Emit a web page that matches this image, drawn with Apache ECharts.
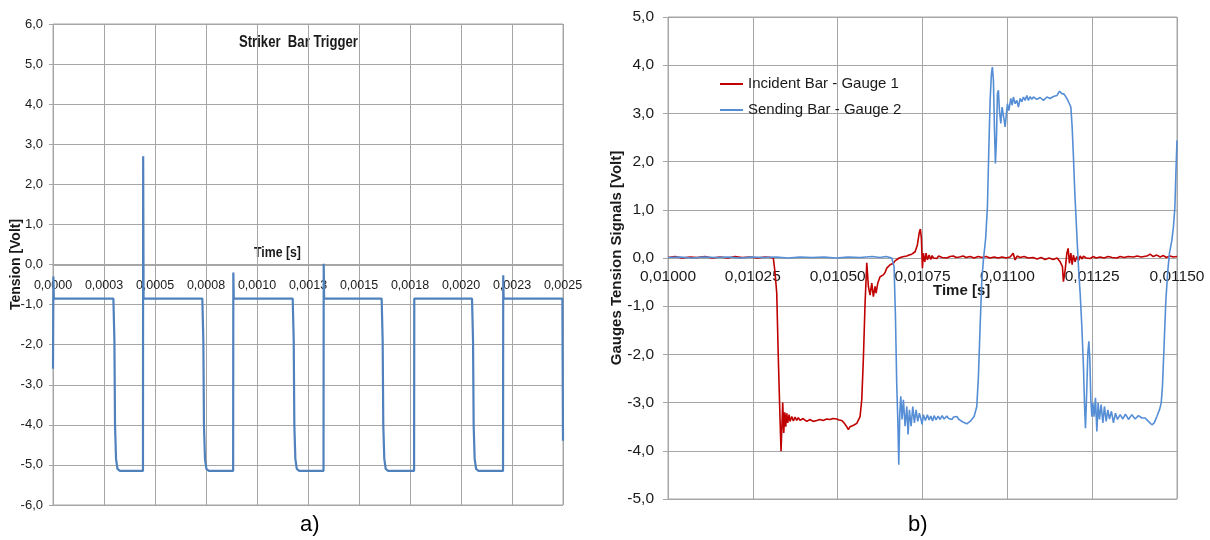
<!DOCTYPE html>
<html>
<head>
<meta charset="utf-8">
<script src="https://cdn.jsdelivr.net/npm/echarts@6.0.0/dist/echarts.min.js"></script>
<style>
html,body{margin:0;padding:0;background:#fff;}
#chart{width:1210px;height:540px;}
</style>
</head>
<body>
<div id="chart"></div>
<script>
// ---- Data (a): striker bar trigger [time s, tension V]
const strikerTrigger = [
  [0,-2.6],[0.000002,-0.3],[0.000004,-0.85],
  [0.000296,-0.85],[0.000301,-1.9],[0.000304,-4.0],[0.000309,-4.85],[0.000316,-5.1],[0.000328,-5.15],
  [0.000441,-5.15],[0.000442,2.7],[0.000444,-0.85],
  [0.000732,-0.85],[0.000737,-1.9],[0.00074,-4.0],[0.000745,-4.85],[0.000752,-5.1],[0.000764,-5.15],
  [0.000883,-5.15],[0.000884,-0.2],[0.000886,-0.85],
  [0.001175,-0.85],[0.00118,-1.9],[0.001183,-4.0],[0.001188,-4.85],[0.001195,-5.1],[0.001207,-5.15],
  [0.001326,-5.15],[0.001327,0.02],[0.001329,-0.85],
  [0.001611,-0.85],[0.001616,-1.9],[0.001619,-4.0],[0.001624,-4.85],[0.001631,-5.1],[0.001643,-5.15],
  [0.00177,-5.15],[0.001771,-0.85],
  [0.002054,-0.85],[0.002059,-1.9],[0.002062,-4.0],[0.002067,-4.85],[0.002074,-5.1],[0.002086,-5.15],
  [0.002206,-5.15],[0.002207,-0.27],[0.002209,-0.85],
  [0.002497,-0.85],[0.0025,-4.4]
];

// ---- Data (b): Incident Bar - Gauge 1 [time s, V]
const incidentBar = [
  [0.0100000,0.01],[0.0100206,0.03],[0.0100413,0.00],[0.0100649,0.02],[0.0100855,0.01],[0.0101091,0.03],
  [0.0101297,0.00],[0.0101533,0.02],[0.0101769,0.00],[0.0101975,0.03],[0.0102182,0.01],[0.0102417,0.02],
  [0.0102624,0.00],[0.0102860,0.02],[0.0103036,0.01],[0.0103104,0.00],[0.0103154,-0.30],[0.0103204,-0.72],
  [0.0103252,-2.10],[0.0103302,-3.35],[0.0103331,-4.01],[0.0103381,-3.00],[0.0103411,-3.63],[0.0103440,-3.20],
  [0.0103470,-3.50],[0.0103499,-3.22],[0.0103529,-3.42],[0.0103567,-3.25],[0.0103597,-3.39],[0.0103647,-3.29],
  [0.0103694,-3.38],[0.0103744,-3.30],[0.0103794,-3.37],[0.0103841,-3.31],[0.0103891,-3.37],[0.0103980,-3.33],
  [0.0104089,-3.39],[0.0104186,-3.35],[0.0104275,-3.39],[0.0104384,-3.37],[0.0104481,-3.35],[0.0104569,-3.37],
  [0.0104678,-3.34],[0.0104776,-3.35],[0.0104864,-3.33],[0.0104973,-3.34],[0.0105041,-3.36],[0.0105121,-3.37],
  [0.0105188,-3.42],[0.0105268,-3.50],[0.0105315,-3.56],[0.0105365,-3.50],[0.0105415,-3.53],[0.0105469,-3.47],
  [0.0105513,-3.49],[0.0105563,-3.43],[0.0105616,-3.40],[0.0105660,-3.29],[0.0105710,-2.94],[0.0105757,-2.10],
  [0.0105808,-0.93],[0.0105837,-0.45],[0.0105858,-0.10],[0.0105905,-0.59],[0.0105955,-0.77],[0.0106005,-0.52],
  [0.0106052,-0.80],[0.0106102,-0.59],[0.0106132,-0.73],[0.0106182,-0.52],[0.0106220,-0.48],[0.0106250,-0.39],
  [0.0106294,-0.42],[0.0106347,-0.35],[0.0106397,-0.30],[0.0106447,-0.21],[0.0106500,-0.20],[0.0106545,-0.14],
  [0.0106595,-0.12],[0.0106642,-0.11],[0.0106692,-0.06],[0.0106742,-0.03],[0.0106810,0.00],[0.0106889,0.02],
  [0.0106957,0.03],[0.0107037,0.04],[0.0107105,0.06],[0.0107184,0.08],[0.0107237,0.10],[0.0107282,0.13],
  [0.0107349,0.27],[0.0107408,0.54],[0.0107438,0.60],[0.0107467,0.41],[0.0107497,-0.21],[0.0107526,0.10],
  [0.0107568,-0.08],[0.0107606,0.10],[0.0107644,-0.04],[0.0107694,0.06],[0.0107744,-0.03],[0.0107783,0.05],
  [0.0107821,0.00],[0.0107871,0.04],[0.0107921,-0.01],[0.0107974,0.04],[0.0108019,0.03],[0.0108078,0.01],
  [0.0108136,0.04],[0.0108216,0.00],[0.0108313,0.03],[0.0108411,0.04],[0.0108490,0.01],[0.0108588,0.02],
  [0.0108697,0.04],[0.0108785,0.01],[0.0108903,0.03],[0.0109021,0.00],[0.0109139,0.03],[0.0109257,0.01],
  [0.0109375,0.03],[0.0109493,0.00],[0.0109610,0.02],[0.0109728,0.00],[0.0109846,0.02],[0.0109964,0.00],
  [0.0110082,0.02],[0.0110171,0.10],[0.0110230,-0.04],[0.0110289,0.04],[0.0110377,0.01],[0.0110495,0.03],
  [0.0110613,0.00],[0.0110760,0.01],[0.0110878,-0.02],[0.0110996,0.01],[0.0111114,-0.03],[0.0111232,0.00],
  [0.0111350,-0.03],[0.0111468,0.00],[0.0111556,-0.08],[0.0111624,-0.18],[0.0111653,-0.49],[0.0111704,-0.25],
  [0.0111754,0.10],[0.0111792,0.20],[0.0111830,-0.11],[0.0111872,0.10],[0.0111910,-0.14],[0.0111948,0.06],
  [0.0111998,-0.08],[0.0112048,0.03],[0.0112102,-0.05],[0.0112146,0.04],[0.0112205,-0.02],[0.0112243,0.04],
  [0.0112323,0.00],[0.0112441,-0.01],[0.0112529,0.03],[0.0112617,0.00],[0.0112735,0.02],[0.0112853,0.00],
  [0.0112971,0.03],[0.0113089,0.01],[0.0113228,0.00],[0.0113325,0.03],[0.0113443,0.01],[0.0113561,0.03],
  [0.0113717,0.02],[0.0113826,0.04],[0.0113944,0.02],[0.0114112,0.04],[0.0114209,0.08],[0.0114298,0.03],
  [0.0114407,0.06],[0.0114504,0.02],[0.0114601,0.05],[0.0114681,0.01],[0.0114799,0.04],[0.0114887,0.02],
  [0.0115000,0.03]
];

// ---- Data (b): Sending Bar - Gauge 2 [time s, V]
const sendingBar = [
  [0.0100000,0.01],[0.0100354,0.02],[0.0100708,0.00],[0.0101061,0.02],[0.0101415,0.01],[0.0101769,0.02],
  [0.0102123,0.00],[0.0102476,0.02],[0.0102830,0.01],[0.0103184,0.02],[0.0103538,0.00],[0.0103891,0.02],
  [0.0104245,0.01],[0.0104599,0.02],[0.0104953,0.00],[0.0105306,0.02],[0.0105660,0.01],[0.0106014,0.03],
  [0.0106250,0.01],[0.0106427,0.03],[0.0106595,0.00],[0.0106662,-0.18],[0.0106701,-1.15],[0.0106742,-2.66],
  [0.0106772,-3.35],[0.0106801,-4.29],[0.0106831,-3.22],[0.0106860,-2.87],[0.0106898,-3.35],[0.0106937,-2.94],
  [0.0106987,-3.49],[0.0107037,-3.08],[0.0107075,-3.66],[0.0107114,-3.15],[0.0107164,-3.49],[0.0107214,-3.08],
  [0.0107261,-3.42],[0.0107311,-3.15],[0.0107361,-3.39],[0.0107408,-3.22],[0.0107458,-3.35],[0.0107488,-3.45],
  [0.0107526,-3.25],[0.0107585,-3.37],[0.0107644,-3.25],[0.0107694,-3.36],[0.0107744,-3.28],[0.0107797,-3.38],
  [0.0107842,-3.27],[0.0107901,-3.36],[0.0107960,-3.28],[0.0108019,-3.35],[0.0108078,-3.27],[0.0108136,-3.34],
  [0.0108216,-3.28],[0.0108269,-3.33],[0.0108313,-3.29],[0.0108372,-3.35],[0.0108411,-3.30],[0.0108461,-3.33],
  [0.0108520,-3.29],[0.0108558,-3.34],[0.0108608,-3.32],[0.0108705,-3.41],[0.0108806,-3.44],[0.0108903,-3.39],
  [0.0109021,-3.29],[0.0109100,-3.08],[0.0109148,-2.46],[0.0109198,-1.42],[0.0109248,-0.46],[0.0109295,-0.04],
  [0.0109360,0.40],[0.0109413,1.06],[0.0109454,2.24],[0.0109493,3.27],[0.0109531,3.82],[0.0109560,3.96],
  [0.0109590,3.69],[0.0109619,2.72],[0.0109649,1.96],[0.0109678,2.44],[0.0109708,3.41],[0.0109737,3.48],
  [0.0109767,3.06],[0.0109808,2.79],[0.0109846,3.13],[0.0109885,2.96],[0.0109935,2.72],[0.0109964,2.93],
  [0.0110003,3.20],[0.0110044,3.06],[0.0110103,3.31],[0.0110141,3.17],[0.0110179,3.34],[0.0110230,3.20],
  [0.0110280,3.27],[0.0110327,3.13],[0.0110377,3.31],[0.0110427,3.24],[0.0110474,3.34],[0.0110524,3.27],
  [0.0110574,3.37],[0.0110622,3.27],[0.0110672,3.35],[0.0110722,3.29],[0.0110769,3.34],[0.0110869,3.29],
  [0.0110967,3.33],[0.0111064,3.27],[0.0111164,3.34],[0.0111261,3.31],[0.0111359,3.35],[0.0111459,3.37],
  [0.0111536,3.46],[0.0111606,3.41],[0.0111674,3.40],[0.0111754,3.31],[0.0111830,3.20],[0.0111872,3.13],
  [0.0111910,2.72],[0.0111948,2.10],[0.0111989,1.34],[0.0112028,0.79],[0.0112066,0.23],[0.0112107,-0.32],
  [0.0112146,-0.73],[0.0112196,-1.42],[0.0112243,-2.25],[0.0112273,-3.01],[0.0112302,-3.53],[0.0112332,-2.94],
  [0.0112373,-1.97],[0.0112402,-1.73],[0.0112432,-2.11],[0.0112461,-2.94],[0.0112491,-3.29],[0.0112520,-3.01],
  [0.0112558,-3.29],[0.0112597,-2.90],[0.0112638,-3.60],[0.0112676,-3.01],[0.0112715,-3.35],[0.0112765,-3.04],
  [0.0112815,-3.42],[0.0112862,-3.08],[0.0112912,-3.39],[0.0112962,-3.15],[0.0113009,-3.34],[0.0113068,-3.18],
  [0.0113127,-3.42],[0.0113186,-3.22],[0.0113245,-3.35],[0.0113325,-3.25],[0.0113405,-3.34],[0.0113481,-3.24],
  [0.0113570,-3.35],[0.0113670,-3.25],[0.0113767,-3.34],[0.0113864,-3.27],[0.0113965,-3.32],[0.0114062,-3.32],
  [0.0114159,-3.39],[0.0114260,-3.46],[0.0114327,-3.42],[0.0114407,-3.29],[0.0114484,-3.15],[0.0114534,-3.01],
  [0.0114572,-2.66],[0.0114622,-1.77],[0.0114672,-0.87],[0.0114731,-0.25],[0.0114778,0.10],[0.0114849,0.37],
  [0.0114896,0.65],[0.0114938,1.06],[0.0114967,1.75],[0.0115000,2.44]
];

const seriesNames = ['Incident Bar - Gauge 1', 'Sending Bar - Gauge 2'];
const leftXRange = [0, 0.0025];
const rightXRange = [0.01, 0.0115];
const xStep = 0.00025;

const GRID = '#a6a6a6';
const ARIAL = "'Liberation Sans',Arial,sans-serif";
const TXT = '#1a1a1a';

function fmtX(dec) {
  return function (v) {
    const m = Math.pow(10, dec);
    const n = Math.floor(v * m + 0.5 + 1e-7);
    return (n / m).toFixed(dec).replace('.', ',');
  };
}
function fmtY(v) { return v.toFixed(1).replace('.', ','); }

const chart = echarts.init(document.getElementById('chart'), null, { renderer: 'canvas' });
chart.setOption({
  animation: false,
  backgroundColor: '#ffffff',
  grid: [
    { left: 53, top: 24, width: 510, height: 481, show: true, borderColor: GRID, borderWidth: 1, backgroundColor: 'transparent' },
    { left: 668, top: 17, width: 509, height: 482, show: true, borderColor: GRID, borderWidth: 1, backgroundColor: 'transparent' }
  ],
  xAxis: [
    {
      gridIndex: 0, type: 'value', min: leftXRange[0], max: leftXRange[1], interval: xStep,
      position: 'bottom', offset: -240,
      axisLine: { show: true, onZero: false, lineStyle: { color: GRID, width: 1 } },
      axisTick: { show: false },
      axisLabel: { margin: 14, fontFamily: ARIAL, fontSize: 12.5, color: TXT, formatter: fmtX(4) },
      splitLine: { show: true, lineStyle: { color: GRID, width: 1 } }
    },
    {
      gridIndex: 1, type: 'value', min: rightXRange[0], max: rightXRange[1], interval: xStep,
      position: 'bottom', offset: -241,
      axisLine: { show: true, onZero: false, lineStyle: { color: GRID, width: 1 } },
      axisTick: { show: false },
      axisLabel: { margin: 11, fontFamily: ARIAL, fontSize: 15.5, color: TXT, formatter: fmtX(5) },
      splitLine: { show: true, lineStyle: { color: GRID, width: 1 } }
    }
  ],
  yAxis: [
    {
      gridIndex: 0, type: 'value', min: -6, max: 6, interval: 1,
      name: 'Tension [Volt]', nameLocation: 'middle', nameGap: 30, nameMoveOverlap: false,
      nameTextStyle: { fontFamily: ARIAL, fontWeight: 'bold', fontSize: 14, color: TXT },
      axisLine: { show: false, onZero: false },
      axisTick: { show: true, length: 4, lineStyle: { color: GRID } },
      axisLabel: { margin: 10, fontFamily: ARIAL, fontSize: 13, color: TXT, formatter: fmtY },
      splitLine: { show: true, lineStyle: { color: GRID, width: 1 } }
    },
    {
      gridIndex: 1, type: 'value', min: -5, max: 5, interval: 1,
      name: 'Gauges Tension Signals [Volt]', nameLocation: 'middle', nameGap: 44, nameMoveOverlap: false,
      nameTextStyle: { fontFamily: ARIAL, fontWeight: 'bold', fontSize: 15, color: TXT },
      axisLine: { show: false, onZero: false },
      axisTick: { show: true, length: 5, lineStyle: { color: GRID } },
      axisLabel: { margin: 14, fontFamily: ARIAL, fontSize: 15.5, color: TXT, formatter: fmtY },
      splitLine: { show: true, lineStyle: { color: GRID, width: 1 } }
    }
  ],
  legend: {
    data: seriesNames,
    orient: 'vertical',
    left: 720, top: 76, padding: 0,
    icon: 'rect', itemWidth: 23, itemHeight: 2, itemGap: 10,
    textStyle: { fontFamily: ARIAL, fontSize: 15, color: TXT, lineHeight: 16 }
  },
  series: [
    {
      name: 'Striker Bar Trigger', type: 'line', xAxisIndex: 0, yAxisIndex: 0,
      data: strikerTrigger, showSymbol: false, symbol: 'none',
      lineStyle: { color: '#4F81BD', width: 2.2 }, itemStyle: { color: '#4F81BD' }
    },
    {
      name: seriesNames[0], type: 'line', xAxisIndex: 1, yAxisIndex: 1,
      data: incidentBar, showSymbol: false, symbol: 'none',
      lineStyle: { color: '#C00000', width: 1.6 }, itemStyle: { color: '#C00000' }
    },
    {
      name: seriesNames[1], type: 'line', xAxisIndex: 1, yAxisIndex: 1,
      data: sendingBar, showSymbol: false, symbol: 'none',
      lineStyle: { color: '#558ED5', width: 1.6 }, itemStyle: { color: '#558ED5' }
    }
  ],
  graphic: [
    { type: 'text', x: 239, y: 43, scaleX: 0.82, style: { text: 'Striker  Bar Trigger', font: "bold 16px " + ARIAL, fill: TXT, verticalAlign: 'middle' } },
    { type: 'text', x: 254, y: 253, scaleX: 0.82, style: { text: 'Time [s]', font: "bold 15px " + ARIAL, fill: TXT, verticalAlign: 'middle' } },
    { type: 'text', x: 933, y: 291, style: { text: 'Time [s]', font: "bold 15px " + ARIAL, fill: TXT, verticalAlign: 'middle' } },
    { type: 'text', x: 300, y: 525, style: { text: 'a)', font: "22px " + ARIAL, fill: '#000', verticalAlign: 'middle' } },
    { type: 'text', x: 908, y: 525, style: { text: 'b)', font: "22px " + ARIAL, fill: '#000', verticalAlign: 'middle' } }
  ]
});
</script>
</body>
</html>
